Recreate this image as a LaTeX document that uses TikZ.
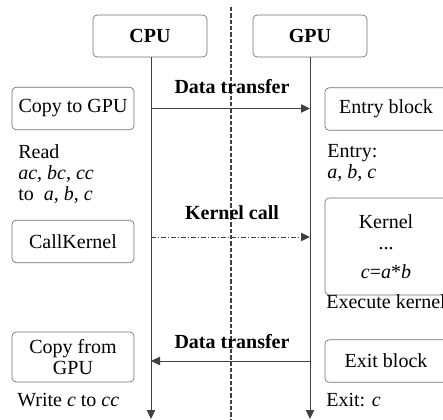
\documentclass[tikz,border=0pt]{standalone}
\usepackage{fontspec}
\setmainfont{Liberation Serif}
\usetikzlibrary{arrows.meta,positioning}

\definecolor{linegray}{HTML}{404040}
\definecolor{boxgray}{HTML}{707070}

\newcommand{\labfont}{\fontsize{12}{12.6}\selectfont}

\tikzset{
  blockbox/.style={draw=boxgray, rounded corners=2.5pt, inner sep=0pt,
    minimum width=73.2pt, minimum height=25.5pt, align=center},
  headbox/.style={blockbox, minimum width=68.4pt, minimum height=25.2pt, font=\labfont\bfseries},
  lifeline/.style={draw=linegray, line width=0.6pt},
  msg/.style={draw=linegray, line width=0.6pt, -{Triangle[length=5.4pt, width=5pt]}},
  msglabel/.style={font=\labfont\bfseries, inner sep=0pt},
  note/.style={inner sep=0pt, anchor=west, align=left},
}

\begin{document}
\begin{tikzpicture}[x=0.6pt, y=-0.6pt, font=\labfont]
  \clip (0,0) rectangle (443,420);
  \useasboundingbox (0,0) rectangle (443,420);

  % Divider between host and device
  \draw[linegray, line width=0.8pt, dash pattern=on 2.6pt off 1.2pt] (231,7) -- (231,420);

  % Headers
  \node[headbox] (cpu) at (150,36) {CPU};
  \node[headbox] (gpu) at (310,36) {GPU};

  % Lifelines
  \coordinate (cpuend) at (151,419);
  \coordinate (gpuend) at (310,419);
  \draw[lifeline, -{Triangle[length=5.4pt, width=5pt]}] (cpu.south -| cpuend) -- (cpuend);
  \draw[lifeline, -{Triangle[length=5.4pt, width=5pt]}] (gpu.south) -- (gpuend);

  % Host side
  \node[blockbox] (copyto) at (73,108.5) {Copy to GPU};
  \node[note] (readtxt) at (18,174) {Read\\ \textit{ac}, \textit{bc}, \textit{cc}\\ to~ \textit{a}, \textit{b}, \textit{c}};
  \node[blockbox] (callk) at (73,241.5) {CallKernel};
  \node[blockbox, minimum height=30pt, text depth=0pt] (copyfrom) at (73,357) {Copy from\\GPU};
  \node[note] (writetxt) at (17,400) {Write \textit{c} to \textit{cc}};

  % Device side
  \node[blockbox] (entry) at (386,109) {Entry block};
  \node[note] (entrytxt) at (327,163) {Entry:\\ \textit{a}, \textit{b}, \textit{c}};
  \node[blockbox, minimum height=58.2pt] (kernel) at (386,246.5) {};
  \node[inner sep=0pt] (ktitle) at (386,222) {Kernel};
  \node[inner sep=0pt] (kdots) at (386,249) {...};
  \node[inner sep=0pt] (kbody) at (386,272) {\textit{c}=\textit{a}*\textit{b}};
  \node[note] (exectxt) at (326,302) {Execute kernel};
  \node[blockbox] (exitb) at (386,361) {Exit block};
  \node[note] (exittxt) at (326,400) {Exit: \textit{c}};

  % Messages
  \coordinate (kcall) at (151,237);
  \draw[msg] (copyto.east -| cpuend) -- (copyto.east -| gpuend);
  \draw[msg, dash pattern=on 3pt off 1.2pt on 0.6pt off 1.2pt] (kcall) -- (kcall -| gpuend);
  \draw[msg] (exitb.west -| gpuend) -- (exitb.west -| cpuend);

  % Message labels
  \node[msglabel] (dt1) at (232,87) {Data transfer};
  \node[msglabel] (kc) at (232,213) {Kernel call};
  \node[msglabel] (dt2) at (232,342) {Data transfer};
\end{tikzpicture}
\end{document}
